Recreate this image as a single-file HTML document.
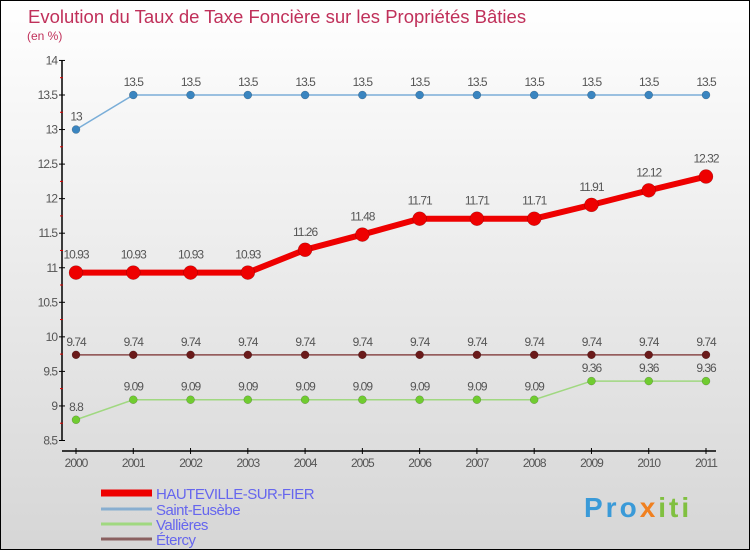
<!DOCTYPE html>
<html><head><meta charset="utf-8"><style>
body{margin:0}
#c{width:750px;height:550px;position:relative;overflow:hidden;box-sizing:border-box;border:1px solid #000;background:linear-gradient(#ffffff,#d6d6d6);font-family:"Liberation Sans",sans-serif}
</style></head><body>
<div id="c">
<svg id="s" width="750" height="550" style="position:absolute;left:0;top:0">
<text x="27" y="22" font-size="18.5" fill="#c0305a">Evolution du Taux de Taxe Foncière sur les Propriétés Bâties</text>
<text x="26" y="39" font-size="12" fill="#c0305a">(en %)</text>
<g id="axes"></g><g id="series"></g><g id="legend"></g>
<text x="583" y="516" font-size="28" font-weight="bold" letter-spacing="3" fill="#3a9ad8">Pro<tspan fill="#f08020">x</tspan><tspan fill="#80c040">iti</tspan></text>
</svg>
</div>
<script>
const years=[2000,2001,2002,2003,2004,2005,2006,2007,2008,2009,2010,2011];
const hauteville=[10.93,10.93,10.93,10.93,11.26,11.48,11.71,11.71,11.71,11.91,12.12,12.32];
const saintEusebe=[13,13.5,13.5,13.5,13.5,13.5,13.5,13.5,13.5,13.5,13.5,13.5];
const vallieres=[8.8,9.09,9.09,9.09,9.09,9.09,9.09,9.09,9.09,9.36,9.36,9.36];
const etercy=[9.74,9.74,9.74,9.74,9.74,9.74,9.74,9.74,9.74,9.74,9.74,9.74];
const yTicks=["8.5","9","9.5","10","10.5","11","11.5","12","12.5","13","13.5","14"];
const NS="http://www.w3.org/2000/svg";
const xs=i=>75+i*(630/11);
const ys=v=>94+(13.5-v)*69.1;
function mk(t,a,p){const e=document.createElementNS(NS,t);for(const k in a)e.setAttribute(k,a[k]);p.appendChild(e);return e;}
const ax=document.getElementById('axes');
let yl=mk('line',{x1:61,y1:ys(14),x2:61,y2:ys(8.5),stroke:'#000','stroke-width':1.5},ax);


let xl=mk('line',{x1:61,y1:450,x2:715,y2:450,stroke:'#000','stroke-width':1.5},ax);


yTicks.forEach(t=>{const v=parseFloat(t),y=ys(v);
 mk('line',{x1:58,y1:y,x2:64,y2:y,stroke:'#000'},ax);
 if(v<14)mk('line',{x1:59,y1:y-17.3,x2:62,y2:y-17.3,stroke:'#d00'},ax);
 const tx=mk('text',{x:56,y:y+4,'font-size':12,'text-anchor':'end',fill:'#555','letter-spacing':'-1'},ax);tx.textContent=t;
 
 
});
years.forEach((yr,i)=>{const x=xs(i);
 mk('line',{x1:x,y1:447,x2:x,y2:453,stroke:'#000'},ax);
 const tx=mk('text',{x:x,y:466,'font-size':12,'text-anchor':'middle',fill:'#555','letter-spacing':'-1'},ax);tx.textContent=yr;
 
 
});
const sg=document.getElementById('series');
function draw(name,data,color,dot,w,r,lab){
 const g=mk('g',{},sg);
 
 
 mk('polyline',{points:data.map((v,i)=>xs(i)+','+ys(v)).join(' '),fill:'none',stroke:color,'stroke-width':w},g);
 data.forEach((v,i)=>{const c=mk('circle',{cx:xs(i),cy:ys(v),r:r,fill:dot,stroke:'rgba(0,0,0,0.3)','stroke-width':0.5},g);
  
  
  const t=mk('text',{x:xs(i),y:ys(v)-lab,'font-size':12,'text-anchor':'middle',fill:'#555','letter-spacing':'-1'},g);t.textContent=v;
  
  
 });
}
draw('saint-eusebe',saintEusebe,'#7aaed8','#3a85c0',1.5,4,9);
draw('etercy',etercy,'#8a4a4a','#6a1a1a',1.5,4,9);
draw('vallieres',vallieres,'#a0d880','#70cc30',1.5,4,9);
draw('hauteville',hauteville,'#ee0000','#ee0000',6,7,14);
const lg=document.getElementById('legend');
[['HAUTEVILLE-SUR-FIER','#ee0000',7,492],['Saint-Eusèbe','#88aed0',3,508],['Vallières','#a0d880',3,523],['Étercy','#8a6060',3,538]].forEach(([n,c,w,y])=>{
 const g=mk('g',{},lg);
 
 
 mk('line',{x1:100,y1:y,x2:151,y2:y,stroke:c,'stroke-width':w},g);
 const t=mk('text',{x:155,y:y+6,'font-size':15,fill:'#6666ee','letter-spacing':'-0.5'},g);t.textContent=n;
});
</script>
</body></html>
